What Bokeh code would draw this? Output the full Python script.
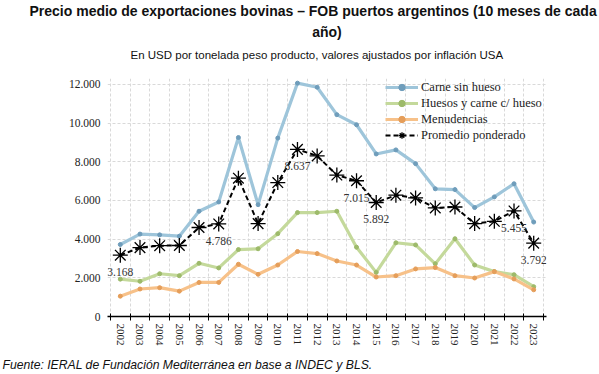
from bokeh.plotting import figure
from bokeh.models import (FixedTicker, Legend, LegendItem, ColumnDataSource, Range1d, Title)
from bokeh.core.properties import value
from bokeh.embed import file_html
from bokeh.resources import INLINE

# ---------------- data ----------------
years = list(range(2002, 2024))
carne_sin_hueso = [3720, 4260, 4220, 4150, 5440, 5920, 9250, 5780, 9220, 12060, 11850, 10430,
                   9910, 8400, 8610, 7900, 6600, 6560, 5630, 6180, 6860, 4880]
huesos_carne = [1930, 1820, 2210, 2110, 2750, 2510, 3460, 3500, 4280, 5370, 5370, 5440,
                3580, 2280, 3810, 3700, 2720, 4020, 2660, 2320, 2160, 1540]
menudencias = [1050, 1420, 1490, 1310, 1760, 1760, 2700, 2180, 2660, 3360, 3250, 2870,
               2660, 2040, 2110, 2460, 2530, 2110, 1990, 2320, 1940, 1380]
promedio = [3168, 3560, 3660, 3670, 4600, 4786, 7150, 4800, 6920, 8637, 8300, 7310,
            7015, 5892, 6270, 6130, 5610, 5660, 4800, 4920, 5455, 3792]
labeled_years = [2002, 2007, 2011, 2014, 2015, 2022, 2023]
y_ticks = [0, 2000, 4000, 6000, 8000, 10000, 12000]
series_names = ["Carne sin hueso", "Huesos y carne c/ hueso", "Menudencias", "Promedio ponderado"]

title_1 = "Precio medio de exportaciones bovinas \u2013 FOB puertos argentinos (10 meses de cada"
title_2 = "año)"
subtitle = "En USD por tonelada peso producto, valores ajustados por inflación USA"
source_txt = "Fuente: IERAL de Fundación Mediterránea en base a INDEC y BLS."

# ---------------- figure ----------------
SERIF = "Liberation Serif"
SANS = "Liberation Sans"

p = figure(width=599, height=374, output_backend="svg", toolbar_location=None,
           x_range=Range1d(2001.35, 2023.65), y_range=Range1d(0, 12300),
           min_border_left=107, min_border_right=53, min_border_top=78, min_border_bottom=58)
p.outline_line_color = None
p.background_fill_color = "white"
p.title.visible = False

bounds = [y - 0.5 for y in years] + [years[-1] + 0.5]

# axes
xa = p.xaxis[0]
xa.ticker = FixedTicker(ticks=years, minor_ticks=bounds)
xa.major_tick_in = 0
xa.major_tick_out = 0
xa.minor_tick_in = 3
xa.minor_tick_out = 4
xa.minor_tick_line_color = "black"
xa.axis_line_color = "black"
xa.axis_line_width = 1.3
xa.major_label_orientation = "vertical"
xa.major_label_standoff = 3
xa.major_label_text_font = SERIF
xa.major_label_text_font_size = "11px"
xa.major_label_text_color = "#222222"

ya = p.yaxis[0]
ya.ticker = FixedTicker(ticks=y_ticks)
ya.major_label_overrides = {t: f"{t:,}".replace(",", ".") for t in y_ticks}
ya.axis_line_color = None
ya.major_tick_in = 0
ya.major_tick_out = 0
ya.minor_tick_in = 0
ya.minor_tick_out = 0
ya.major_label_standoff = 7
ya.major_label_text_font = SERIF
ya.major_label_text_font_size = "11.5px"
ya.major_label_text_color = "#222222"

p.xgrid.ticker = FixedTicker(ticks=bounds)
p.xgrid.grid_line_color = "#d9d9d9"
p.xgrid.grid_line_dash = "3 2"
p.ygrid.grid_line_color = "#d9d9d9"
p.ygrid.grid_line_dash = "3 2"

# series
src = ColumnDataSource(dict(x=years, a=carne_sin_hueso, b=huesos_carne, c=menudencias, d=promedio))

l1 = p.line("x", "a", source=src, color="#9EC5DA", line_width=3.2)
m1 = p.scatter("x", "a", source=src, size=4, color="#6F9DBB")
l2 = p.line("x", "b", source=src, color="#C4D99B", line_width=3.2)
m2 = p.scatter("x", "b", source=src, size=4, color="#9DBA6A")
l3 = p.line("x", "c", source=src, color="#F7C189", line_width=3.2)
m3 = p.scatter("x", "c", source=src, size=4, color="#E59E5A")
l4 = p.line("x", "d", source=src, color="black", line_width=2, line_dash="5 3")
m4 = p.scatter("x", "d", source=src, marker="asterisk", size=15, line_color="black", line_width=1.3)

# value labels
lab_x = [y for y in years if y in labeled_years]
lab_y = [promedio[years.index(y)] for y in lab_x]
lab_t = [f"{v:,}".replace(",", ".") for v in lab_y]
p.text(x=lab_x, y=lab_y, text=lab_t, text_align="center", text_baseline="middle",
       y_offset=17, text_font=value(SERIF), text_font_size="11.5px", text_color="#333333")

legend = Legend(items=[LegendItem(label=series_names[0], renderers=[l1, m1]),
                       LegendItem(label=series_names[1], renderers=[l2, m2]),
                       LegendItem(label=series_names[2], renderers=[l3, m3]),
                       LegendItem(label=series_names[3], renderers=[l4, m4])],
                location=(278, 173))
legend.background_fill_alpha = 0
legend.border_line_color = None
legend.padding = 0
legend.margin = 0
legend.spacing = 0
legend.glyph_width = 33
legend.glyph_height = 16
legend.label_height = 16
legend.label_standoff = 3
legend.label_text_font = SERIF
legend.label_text_font_size = "12.5px"
legend.label_text_color = "#222222"
p.add_layout(legend)

# titles (added nearest-first) and source note
p.add_layout(Title(text=" ", standoff=10, text_font_size="2px"), "above")
p.add_layout(Title(text=subtitle, align="left", offset=23, standoff=8, text_font=SANS,
                   text_font_style="normal", text_font_size="11.5px", text_color="#111111"), "above")
p.add_layout(Title(text=title_2, align="center", standoff=6, text_font=SANS,
                   text_font_style="bold", text_font_size="14px", text_color="#111111"), "above")
p.add_layout(Title(text=title_1, align="left", offset=-78, standoff=0, text_font=SANS,
                   text_font_style="bold", text_font_size="14px", text_color="#111111"), "above")
p.add_layout(Title(text=" ", standoff=3, text_font_size="2px"), "below")
p.add_layout(Title(text=source_txt, align="left", offset=-105, standoff=0, text_font=SANS,
                   text_font_style="italic", text_font_size="12.2px", text_color="#111111"), "below")

open("out.html", "w").write(file_html(p, INLINE))
